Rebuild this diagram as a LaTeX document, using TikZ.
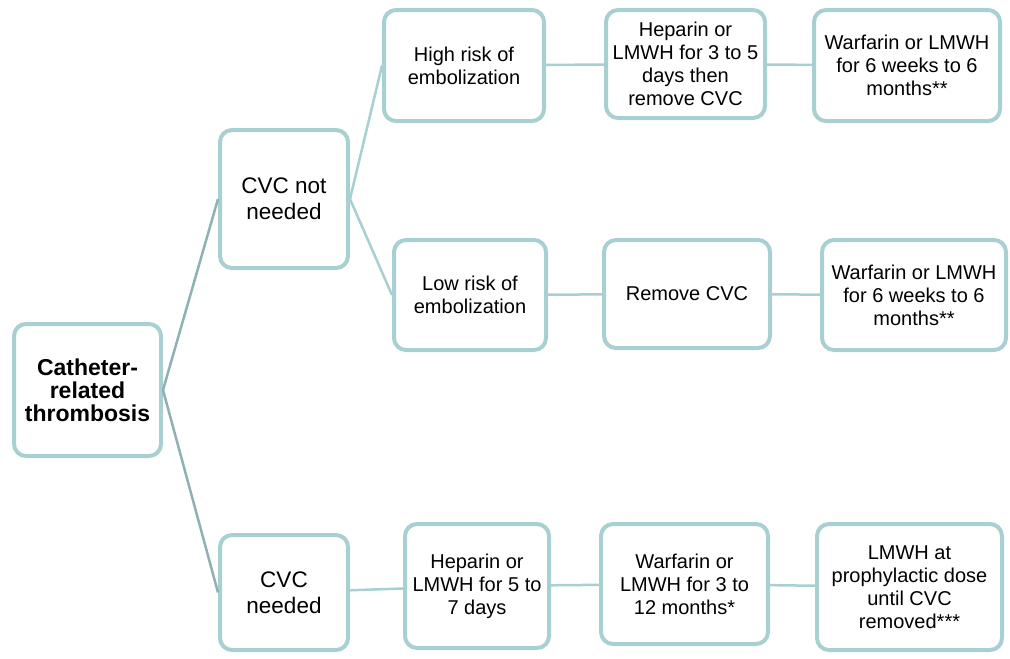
\documentclass[tikz,border=0pt]{standalone}
\usepackage{fontspec}
\setmainfont{Liberation Sans}
\usetikzlibrary{positioning}
\definecolor{boxline}{HTML}{A8CFD1}
\definecolor{rootline}{HTML}{8FB1B3}

\begin{document}
\begin{tikzpicture}[x=1pt,y=-1pt,
  box/.style={draw=boxline, line width=4pt, rounded corners=12pt, align=center,
    inner sep=0pt, font=\fontsize{20}{23}\selectfont},
  bigbox/.style={box, font=\fontsize{22.5}{26}\selectfont},
  link/.style={draw=boxline, line width=2.5pt},
  rootlink/.style={draw=rootline, line width=2.5pt}]
  \useasboundingbox (0,0) rectangle (1010,659);

  % root and the two branches
  \node[box, minimum width=147pt, minimum height=132pt,
    font=\fontsize{23}{23}\selectfont\bfseries] (crt) at (87.5,390)
    {Catheter-\\related\\thrombosis};
  \node[bigbox, minimum width=128pt, minimum height=138pt] (notneeded) at (284,199)
    {CVC not\\needed};
  \node[bigbox, minimum width=128pt, minimum height=115pt] (needed) at (284,592.5)
    {CVC\\needed};

  % CVC not needed, high risk
  \node[box, minimum width=160pt, minimum height=111pt] (highrisk) at (464,65.5)
    {High risk of\\embolization};
  \node[box, minimum width=159pt, minimum height=108pt] (hepremove) at (685.5,64)
    {Heparin or\\LMWH for 3 to 5\\days then\\remove CVC};
  \node[box, minimum width=186pt, minimum height=111pt] (warhigh) at (907,65.5)
    {Warfarin or LMWH\\for 6 weeks to 6\\months**};

  % CVC not needed, low risk
  \node[box, minimum width=152pt, minimum height=110pt] (lowrisk) at (470,295)
    {Low risk of\\embolization};
  \node[box, minimum width=166pt, minimum height=108pt] (remove) at (687,294)
    {Remove CVC};
  \node[box, minimum width=184pt, minimum height=110pt] (warlow) at (914,295)
    {Warfarin or LMWH\\for 6 weeks to 6\\months**};

  % CVC needed
  \node[box, minimum width=144pt, minimum height=124pt] (hepshort) at (477,586)
    {Heparin or\\LMWH for 5 to\\7 days};
  \node[box, minimum width=167pt, minimum height=120pt] (warlong) at (684.5,584)
    {Warfarin or\\LMWH for 3 to\\12 months*};
  \node[box, minimum width=185pt, minimum height=126pt] (prophyl) at (909.5,587)
    {LMWH at\\prophylactic dose\\until CVC\\removed***};

  \draw[rootlink] (crt.east) -- (notneeded.west);
  \draw[rootlink] (crt.east) -- (needed.west);
  \draw[link] (notneeded.east) -- (highrisk.west);
  \draw[link] (notneeded.east) -- (lowrisk.west);
  \draw[link] (highrisk) -- (hepremove);
  \draw[link] (hepremove) -- (warhigh);
  \draw[link] (lowrisk) -- (remove);
  \draw[link] (remove) -- (warlow);
  \draw[link] (needed) -- (hepshort);
  \draw[link] (hepshort) -- (warlong);
  \draw[link] (warlong) -- (prophyl);
\end{tikzpicture}
\end{document}
